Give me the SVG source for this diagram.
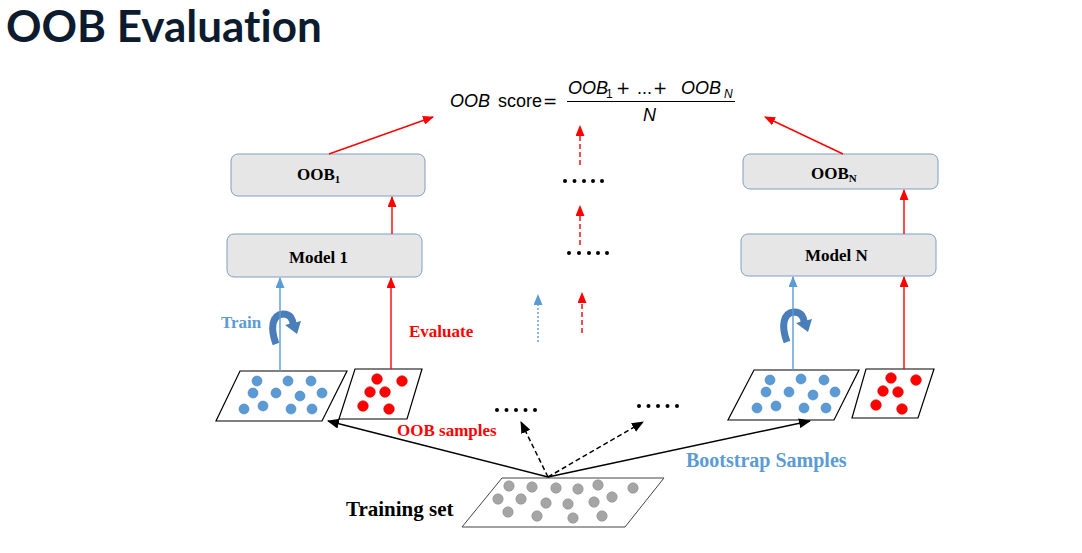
<svg xmlns="http://www.w3.org/2000/svg" width="1082" height="553" viewBox="0 0 1082 553">
<style>
.box{fill:#e7e6e7;stroke:#7f9fc4;stroke-width:1}
.bt{font-family:"Liberation Serif",serif;font-weight:bold;font-size:17px;fill:#000}
.sub{font-size:11px}
.para{fill:#fff;stroke:#000;stroke-width:1.2}
.tset{fill:#fff;stroke:#444;stroke-width:1}
.bd{fill:#5b9bd5;stroke:#4a84bb;stroke-width:0.6}
.rd{fill:#ff0000;stroke:#e00000;stroke-width:0.6}
.gd{fill:#a5a5a5;stroke:#8c8c8c;stroke-width:0.6}
.f{font-family:"Liberation Sans",sans-serif;font-size:18px;fill:#000}
.fs{font-family:"Liberation Sans",sans-serif;font-size:12px;fill:#000}
.fo{font-family:"DejaVu Sans",sans-serif;font-size:17px;fill:#000}
.fi{font-style:italic}
.red{stroke:#ff0000;stroke-width:1.4;fill:none}
.blue{stroke:#5b9bd5;stroke-width:1.4;fill:none}
.blk{stroke:#000;stroke-width:1.5;fill:none}
.dash{stroke-dasharray:5,3}
.dot{stroke-dasharray:2,2}
.dots{fill:#000}
.curl{fill:none;stroke:#4a7ebb;stroke-width:7}
.curlh{fill:#4a7ebb}
.lbl{font-family:"Liberation Serif",serif;font-weight:bold}
</style>
<defs>
<marker id="ar" markerUnits="userSpaceOnUse" markerWidth="11" markerHeight="9" refX="10" refY="4.5" orient="auto"><path d="M0,0 L11,4.5 L0,9 z" fill="#ff0000"/></marker>
<marker id="ab" markerUnits="userSpaceOnUse" markerWidth="11" markerHeight="9" refX="10" refY="4.5" orient="auto"><path d="M0,0 L11,4.5 L0,9 z" fill="#5b9bd5"/></marker>
<marker id="ak" markerUnits="userSpaceOnUse" markerWidth="12" markerHeight="10" refX="11" refY="5" orient="auto"><path d="M0,0 L12,5 L0,10 z" fill="#000"/></marker>
</defs>
<rect width="1082" height="553" fill="#fff"/>

<g id="title">
<text x="6" y="42" font-family="Lato,sans-serif" font-weight="bold" font-size="44" fill="#0d1b2e" style="font-variant-ligatures:none;font-feature-settings:'liga' 0">OOB Evaluation</text>
</g>

<g id="formula">
<text class="f fi" x="450" y="107">OOB</text>
<text class="f" x="498" y="107">score</text>
<text class="fo" x="543" y="107">=</text>
<line x1="567" y1="101.5" x2="735" y2="101.5" stroke="#000" stroke-width="1"/>
<text class="f fi" x="568" y="94">OOB</text>
<text class="fs" x="606" y="98">1</text>
<text class="fo" x="616" y="94">+</text>
<text class="f" x="637" y="94">...</text>
<text class="fo" x="653" y="94">+</text>
<text class="f fi" x="681" y="94">OOB</text>
<text class="fs fi" x="724" y="98">N</text>
<text class="f fi" x="643" y="121">N</text>
</g>

<g id="oob1">
<rect class="box" x="231" y="154" width="194" height="42" rx="7"/>
<text class="bt" x="297" y="180">OOB<tspan class="sub" dy="3">1</tspan></text>
</g>
<g id="model1">
<rect class="box" x="227" y="234" width="195" height="43" rx="7"/>
<text class="bt" x="289" y="263">Model 1</text>
</g>
<g id="oobN">
<rect class="box" x="743" y="154" width="195" height="35" rx="7"/>
<text class="bt" x="811" y="179">OOB<tspan class="sub" dy="3">N</tspan></text>
</g>
<g id="modelN">
<rect class="box" x="741" y="234" width="195" height="42" rx="7"/>
<text class="bt" x="805" y="261">Model N</text>
</g>

<g id="bootstrap1">
<polygon class="para" points="240,371 347,371 322,421 216,421"/>
<circle class="bd" cx="257" cy="381" r="5"/><circle class="bd" cx="288" cy="381" r="5"/><circle class="bd" cx="311" cy="381" r="5"/>
<circle class="bd" cx="253" cy="393" r="5"/><circle class="bd" cx="276" cy="393" r="5"/><circle class="bd" cx="300" cy="396" r="5"/><circle class="bd" cx="322" cy="393" r="5"/>
<circle class="bd" cx="244" cy="409" r="5"/><circle class="bd" cx="263" cy="406" r="5"/><circle class="bd" cx="291" cy="409" r="5"/><circle class="bd" cx="312" cy="409" r="5"/>
</g>
<g id="oobsamples1">
<polygon class="para" points="355,369 422,369 407,419 339,419"/>
<circle class="rd" cx="377" cy="379" r="5.3"/><circle class="rd" cx="402" cy="381" r="5.3"/>
<circle class="rd" cx="370" cy="392" r="5.3"/><circle class="rd" cx="385" cy="392" r="5.3"/>
<circle class="rd" cx="363" cy="406" r="5.3"/><circle class="rd" cx="389" cy="409" r="5.3"/>
</g>
<g id="bootstrapN">
<polygon class="para" points="754,370 859,370 834,420 728,420"/>
<circle class="bd" cx="770" cy="380" r="5"/><circle class="bd" cx="801" cy="379" r="5"/><circle class="bd" cx="824" cy="380" r="5"/>
<circle class="bd" cx="766" cy="392" r="5"/><circle class="bd" cx="789" cy="392" r="5"/><circle class="bd" cx="813" cy="395" r="5"/><circle class="bd" cx="835" cy="392" r="5"/>
<circle class="bd" cx="757" cy="408" r="5"/><circle class="bd" cx="776" cy="406" r="5"/><circle class="bd" cx="804" cy="408" r="5"/><circle class="bd" cx="826" cy="408" r="5"/>
</g>
<g id="oobsamplesN">
<polygon class="para" points="866,369 934,369 918,418 852,418"/>
<circle class="rd" cx="891" cy="378" r="5.3"/><circle class="rd" cx="916" cy="380" r="5.3"/>
<circle class="rd" cx="883" cy="391" r="5.3"/><circle class="rd" cx="898" cy="392" r="5.3"/>
<circle class="rd" cx="876" cy="405" r="5.3"/><circle class="rd" cx="902" cy="409" r="5.3"/>
</g>
<g id="trainingset">
<polygon class="tset" points="502,478 664,478 625,527 462,527"/>
<circle class="gd" cx="509" cy="486" r="5.2"/><circle class="gd" cx="532" cy="487" r="5.2"/><circle class="gd" cx="556" cy="488" r="5.2"/><circle class="gd" cx="578" cy="489" r="5.2"/><circle class="gd" cx="598" cy="485" r="5.2"/><circle class="gd" cx="633" cy="488" r="5.2"/>
<circle class="gd" cx="498" cy="499" r="5.2"/><circle class="gd" cx="521" cy="499" r="5.2"/><circle class="gd" cx="546" cy="503" r="5.2"/><circle class="gd" cx="568" cy="504" r="5.2"/><circle class="gd" cx="594" cy="502" r="5.2"/><circle class="gd" cx="612" cy="497" r="5.2"/>
<circle class="gd" cx="508" cy="512" r="5.2"/><circle class="gd" cx="537" cy="516" r="5.2"/><circle class="gd" cx="573" cy="518" r="5.2"/><circle class="gd" cx="602" cy="516" r="5.2"/>
<text class="lbl" x="346" y="516" font-size="21" fill="#000">Training set</text>
</g>

<g id="labels">
<text class="lbl" x="221" y="328" font-size="17" fill="#5b9bd5">Train</text>
<text class="lbl" x="409" y="337" font-size="17" fill="#ff0000">Evaluate</text>
<text class="lbl" x="397" y="436" font-size="17" fill="#ff0000">OOB samples</text>
<text class="lbl" x="686" y="467" font-size="20" fill="#5b9bd5">Bootstrap Samples</text>
</g>

<g id="ellipsis" class="dots">
<circle cx="565" cy="181" r="2"/><circle cx="574.5" cy="181" r="2"/><circle cx="584" cy="181" r="2"/><circle cx="593" cy="181" r="2"/><circle cx="602" cy="181" r="2"/>
<circle cx="569" cy="253" r="2"/><circle cx="579" cy="253" r="2"/><circle cx="589" cy="253" r="2"/><circle cx="598" cy="253" r="2"/><circle cx="607" cy="253" r="2"/>
<circle cx="497" cy="410" r="2"/><circle cx="506.5" cy="410" r="2"/><circle cx="516" cy="410" r="2"/><circle cx="525.5" cy="410" r="2"/><circle cx="535" cy="410" r="2"/>
<circle cx="639" cy="406" r="2"/><circle cx="648.5" cy="406" r="2"/><circle cx="658" cy="406" r="2"/><circle cx="667.5" cy="406" r="2"/><circle cx="677" cy="406" r="2"/>
</g>

<g id="curl-arrows">
<path class="curl" d="M276,344 C270,328 272,315 283,314 C291,314 293,320 293,325"/>
<polygon class="curlh" points="285,325 301,321 297,334"/>
<path class="curl" d="M787,342 C781,326 783,313 794,312 C802,312 804,318 804,323"/>
<polygon class="curlh" points="796,323 812,319 808,332"/>
</g>

<g id="connectors">
<line class="red" x1="329" y1="154" x2="433" y2="117" marker-end="url(#ar)"/>
<line class="red" x1="843" y1="154" x2="765" y2="117" marker-end="url(#ar)"/>
<line class="red" x1="392" y1="234" x2="392" y2="197" marker-end="url(#ar)"/>
<line class="red" x1="904" y1="234" x2="904" y2="190" marker-end="url(#ar)"/>
<line class="blue" x1="280" y1="371" x2="280" y2="278" marker-end="url(#ab)"/>
<line class="red" x1="391" y1="369" x2="391" y2="278" marker-end="url(#ar)"/>
<line class="blue" x1="793" y1="370" x2="793" y2="277" marker-end="url(#ab)"/>
<line class="red" x1="904" y1="369" x2="904" y2="277" marker-end="url(#ar)"/>
<line class="red dash" x1="580" y1="165" x2="580" y2="126" marker-end="url(#ar)"/>
<line class="red dash" x1="580" y1="245" x2="580" y2="206" marker-end="url(#ar)"/>
<line class="red dash" x1="582" y1="333" x2="582" y2="293" marker-end="url(#ar)"/>
<line class="blue dot" x1="538" y1="342" x2="538" y2="295" marker-end="url(#ab)"/>
<line class="blk" x1="548" y1="477" x2="328" y2="421" marker-end="url(#ak)"/>
<line class="blk" x1="548" y1="477" x2="810" y2="421" marker-end="url(#ak)"/>
<line class="blk dash" x1="548" y1="477" x2="521" y2="422" marker-end="url(#ak)"/>
<line class="blk dash" x1="548" y1="477" x2="643" y2="422" marker-end="url(#ak)"/>
</g>
</svg>
